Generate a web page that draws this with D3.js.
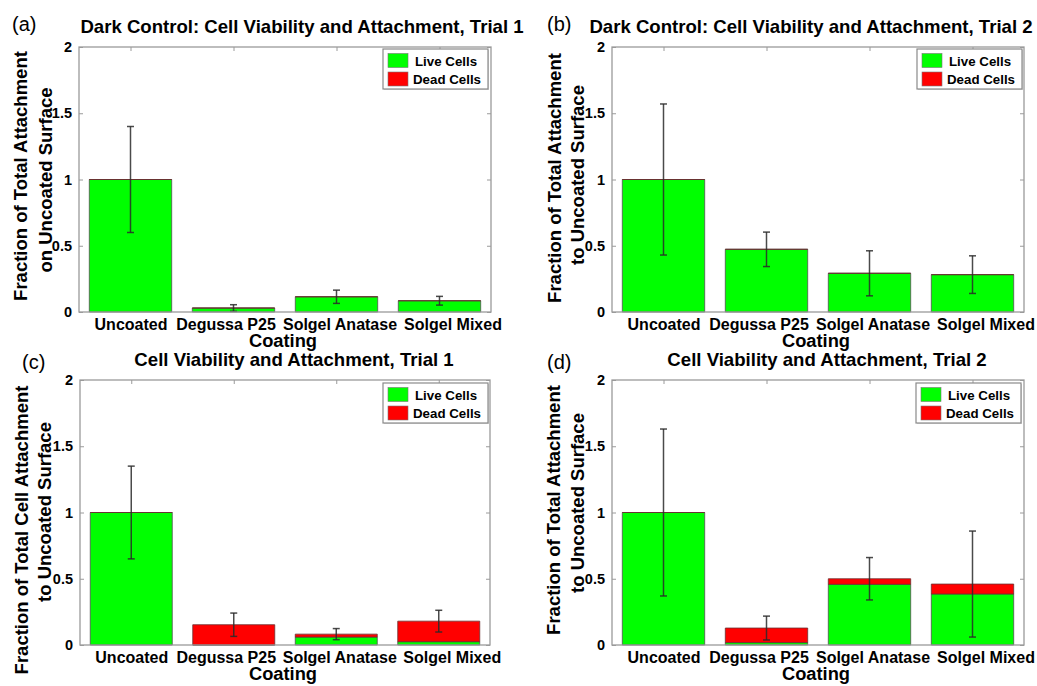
<!DOCTYPE html>
<html>
<head>
<meta charset="utf-8">
<script src="https://cdn.jsdelivr.net/npm/d3@7"></script>
<style>
  html, body { margin: 0; padding: 0; background: #fff; }
  svg { display: block; }
  text { font-family: "Liberation Sans", Arial, Helvetica, sans-serif; fill: #000; }
</style>
</head>
<body>
<svg id="fig" width="1037" height="686"></svg>
<script>
// Coating categories shared by every panel
const categories = ["Uncoated", "Degussa P25", "Solgel Anatase", "Solgel Mixed"];
const yTicks = [0, 0.5, 1, 1.5, 2];
const legendLabels = ["Live Cells", "Dead Cells"];

// (a) Dark control, trial 1
const liveA = [1.0, 0.03, 0.115, 0.085];
const deadA = [0, 0, 0, 0];
const errA  = [0.40, 0.025, 0.05, 0.033];

// (b) Dark control, trial 2
const liveB = [1.0, 0.473, 0.292, 0.282];
const deadB = [0, 0, 0, 0];
const errB  = [0.57, 0.13, 0.17, 0.142];

// (c) Illuminated, trial 1
const liveC = [1.0, 0, 0.06, 0.025];
const deadC = [0, 0.153, 0.022, 0.155];
const errC  = [0.35, 0.088, 0.042, 0.082];

// (d) Illuminated, trial 2
const liveD = [1.0, 0.018, 0.458, 0.385];
const deadD = [0, 0.11, 0.042, 0.075];
const errD  = [0.63, 0.09, 0.16, 0.40];

const titles = [
  "Dark Control: Cell Viability and Attachment, Trial 1",
  "Dark Control: Cell Viability and Attachment, Trial 2",
  "Cell Viability and Attachment, Trial 1",
  "Cell Viability and Attachment, Trial 2"
];
const panelLetters = ["(a)", "(b)", "(c)", "(d)"];
const yLabels = [
  ["Fraction of Total Attachment", "on Uncoated Surface"],
  ["Fraction of Total Attachment", "to Uncoated Surface"],
  ["Fraction of Total Cell Attachment", "to Uncoated Surface"],
  ["Fraction of Total Attachment", "to Uncoated Surface"]
];
const xLabel = "Coating";

// Layout of each panel (axes box and text anchors)
const layouts = [
  { x0: 79,  x1: 491,  y0: 47,  y1: 312, titleX: 302, titleY: 33,  letterX: 12,  letterY: 31,
    yl1: [27, 176], yl2: [52, 180], legX: 383, legY: 49 },
  { x0: 612, x1: 1024, y0: 47,  y1: 312, titleX: 811, titleY: 33,  letterX: 547, letterY: 31,
    yl1: [561, 178], yl2: [584, 175], legX: 917, legY: 49 },
  { x0: 80,  x1: 490,  y0: 380, y1: 645, titleX: 294, titleY: 366, letterX: 22,  letterY: 369,
    yl1: [28, 530], yl2: [51, 512], legX: 383, legY: 383 },
  { x0: 612, x1: 1024, y0: 380, y1: 645, titleX: 827, titleY: 366, letterX: 547, letterY: 369,
    yl1: [560, 510], yl2: [584, 503], legX: 916, legY: 383 }
];
// horizontal nudge of the category labels relative to the bar centres
const labelShift = [0, -8, 3, 13];

const panels = [
  { live: liveA, dead: deadA, err: errA },
  { live: liveB, dead: deadB, err: errB },
  { live: liveC, dead: deadC, err: errC },
  { live: liveD, dead: deadD, err: errD }
];

const colors = { live: "#00ff00", dead: "#ff0000" };
const frameColor = "#9a9a9a";
const svg = d3.select("#fig");

panels.forEach((p, i) => {
  const L = layouts[i];
  const g = svg.append("g");

  const x = d3.scaleBand().domain(categories).range([L.x0, L.x1])
    .paddingInner(0.2).paddingOuter(0.1);
  const xc = d3.scalePoint().domain(categories).range([L.x0, L.x1]).padding(0.5);
  const y = d3.scaleLinear().domain([0, 2]).range([L.y1, L.y0]);

  // stacked bars: live on bottom, dead on top
  const rows = categories.map((c, k) => ({ c, live: p.live[k], dead: p.dead[k], err: p.err[k] }));
  const stacked = d3.stack().keys(["live", "dead"])(rows);

  stacked.forEach(layer => {
    g.append("g").selectAll("path").data(layer).join("path")
      .attr("d", d => {
        const xa = x(d.data.c), xb = xa + x.bandwidth();
        const ya = y(d[0]), yb = y(d[1]);
        return `M${xa},${ya}H${xb}V${yb}H${xa}Z`;
      })
      .attr("fill", colors[layer.key])
      .attr("stroke", layer.key === "dead" ? "#6a3030" : "#505050")
      .attr("stroke-width", 0.8);
  });

  // error bars centered on the stack total
  const eb = g.append("g").attr("stroke", "#2a2a2a").attr("stroke-opacity", 0.85)
    .attr("stroke-width", 1.5).attr("fill", "none");
  rows.forEach(r => {
    const cx = xc(r.c);
    const tot = r.live + r.dead;
    const ya = y(tot + r.err), yb = y(Math.max(0, tot - r.err));
    eb.append("line").attr("x1", cx).attr("x2", cx).attr("y1", ya).attr("y2", yb);
    eb.append("line").attr("x1", cx - 3.5).attr("x2", cx + 3.5).attr("y1", ya).attr("y2", ya);
    eb.append("line").attr("x1", cx - 3.5).attr("x2", cx + 3.5).attr("y1", yb).attr("y2", yb);
  });

  // axes frame
  g.append("rect").attr("x", L.x0).attr("y", L.y0)
    .attr("width", L.x1 - L.x0).attr("height", L.y1 - L.y0)
    .attr("fill", "none").attr("stroke", frameColor).attr("stroke-width", 1.3);

  // left axis labels with inward ticks
  const yAxis = d3.axisLeft(y).tickValues(yTicks).tickSizeInner(-4).tickSizeOuter(0)
    .tickPadding(7).tickFormat(d3.format("~g"));
  const ya = g.append("g").attr("transform", `translate(${L.x0},0)`).call(yAxis);
  ya.select(".domain").remove();
  ya.selectAll(".tick line").attr("stroke", frameColor);
  ya.selectAll(".tick text").attr("font-size", 14.5).attr("font-weight", "bold")
    .attr("font-family", "Liberation Sans, Arial, sans-serif").attr("fill", "#000");

  // right axis ticks (no labels)
  const yr = g.append("g").attr("transform", `translate(${L.x1},0)`)
    .call(d3.axisRight(y).tickValues(yTicks).tickSizeInner(-4).tickSizeOuter(0).tickFormat(""));
  yr.select(".domain").remove();
  yr.selectAll(".tick line").attr("stroke", frameColor);

  // top axis ticks at category centres
  const xt = g.append("g").attr("transform", `translate(0,${L.y0})`)
    .call(d3.axisTop(xc).tickSizeInner(-4).tickSizeOuter(0).tickFormat(""));
  xt.select(".domain").remove();
  xt.selectAll(".tick line").attr("stroke", frameColor);

  // bottom category labels
  const xb = g.append("g").attr("transform", `translate(0,${L.y1})`)
    .call(d3.axisBottom(xc).tickSize(0).tickPadding(7));
  xb.select(".domain").remove();
  xb.selectAll(".tick text").attr("font-size", 16).attr("font-weight", "bold")
    .attr("font-family", "Liberation Sans, Arial, sans-serif").attr("fill", "#000")
    .attr("dx", (d, k) => labelShift[k]);

  // x axis title
  g.append("text").attr("x", (L.x0 + L.x1) / 2 - 2).attr("y", L.y1 + 35)
    .attr("text-anchor", "middle").attr("font-size", 18.3).attr("font-weight", "bold")
    .text(xLabel);

  // y axis title (two lines)
  [L.yl1, L.yl2].forEach((pos, k) => {
    g.append("text").attr("transform", `translate(${pos[0]},${pos[1]}) rotate(-90)`)
      .attr("text-anchor", "middle").attr("font-size", 18.5).attr("font-weight", "bold")
      .text(yLabels[i][k]);
  });

  // panel title
  g.append("text").attr("x", L.titleX).attr("y", L.titleY)
    .attr("text-anchor", "middle").attr("font-size", 18.6).attr("font-weight", "bold")
    .text(titles[i]);

  // panel letter
  g.append("text").attr("x", L.letterX).attr("y", L.letterY)
    .attr("font-size", 20).text(panelLetters[i]);

  // legend
  const lg = g.append("g").attr("transform", `translate(${L.legX},${L.legY})`);
  lg.append("rect").attr("x", 1).attr("y", 1).attr("width", 105).attr("height", 40)
    .attr("fill", "#d8d8d8");
  lg.append("rect").attr("x", 0).attr("y", 0).attr("width", 105).attr("height", 40)
    .attr("fill", "#fff").attr("stroke", "#8a8a8a").attr("stroke-width", 1.2);
  [colors.live, colors.dead].forEach((c, k) => {
    lg.append("rect").attr("x", 5).attr("y", 4.5 + k * 18.5).attr("width", 20).attr("height", 14)
      .attr("fill", c).attr("stroke", "#777").attr("stroke-width", 0.6);
    lg.append("text").attr("x", 32 - (k === 1 ? 2 : 0)).attr("y", 16.5 + k * 18.5)
      .attr("font-size", 13.3).attr("font-weight", "bold").text(legendLabels[k]);
  });
});
</script>
</body>
</html>
